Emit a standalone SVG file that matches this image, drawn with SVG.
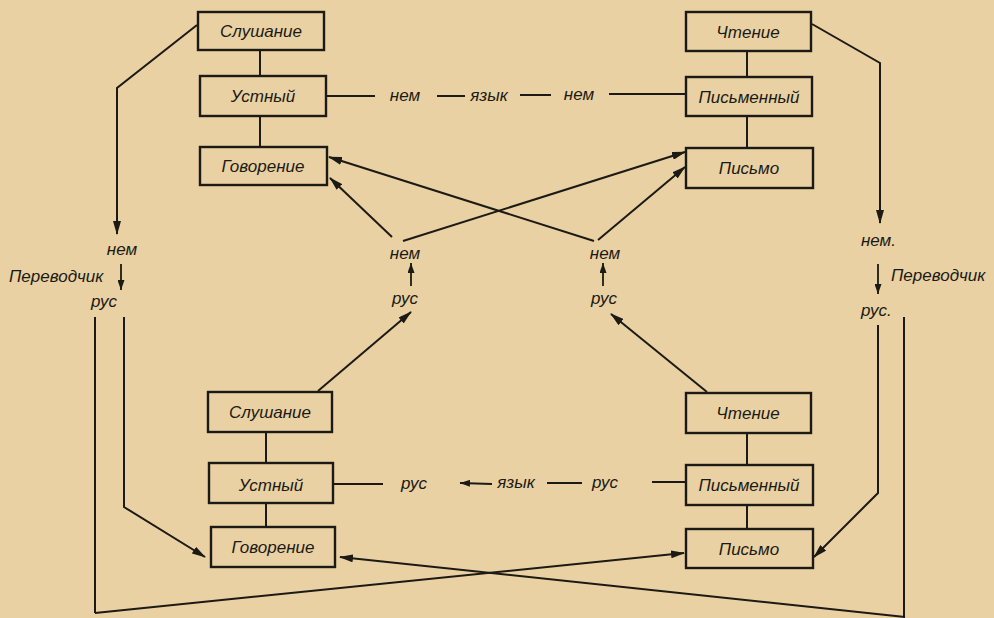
<svg xmlns="http://www.w3.org/2000/svg" width="994" height="618" viewBox="0 0 994 618">
<style>
.bg{fill:#E9D1A3}
.box{fill:none;stroke:#1c1a14;stroke-width:2.4}
.t{font-family:"Liberation Sans","DejaVu Sans",sans-serif;font-style:italic;font-size:17px;fill:#1c1a14;text-anchor:middle}
.lb{font-family:"Liberation Sans","DejaVu Sans",sans-serif;font-style:italic;font-size:17px;fill:#1c1a14}
.ln{fill:none;stroke:#1c1a14;stroke-width:2}
.ar{fill:none;stroke:#1c1a14;stroke-width:2;marker-end:url(#ah)}
.ars{fill:none;stroke:#1c1a14;stroke-width:1.8;marker-end:url(#ahs)}
</style>
<defs>
<marker id="ah" markerUnits="userSpaceOnUse" markerWidth="14" markerHeight="8" refX="13" refY="4" orient="auto"><path d="M0,0 L14,4 L0,8 z" fill="#1c1a14"/></marker>
<marker id="ahs" markerUnits="userSpaceOnUse" markerWidth="10" markerHeight="7" refX="10" refY="3.5" orient="auto"><path d="M0,0 L10,3.5 L0,7 z" fill="#1c1a14"/></marker>
</defs>
<rect class="bg" x="0" y="0" width="994" height="618"/>

<g id="connectors">
<line class="ln" x1="260" y1="50" x2="260" y2="76"/>
<line class="ln" x1="260" y1="116" x2="260" y2="147"/>
<line class="ln" x1="747" y1="51" x2="747" y2="77"/>
<line class="ln" x1="747" y1="116" x2="747" y2="148"/>
<line class="ln" x1="266" y1="432" x2="266" y2="463"/>
<line class="ln" x1="266" y1="503" x2="266" y2="527"/>
<line class="ln" x1="747" y1="433" x2="747" y2="465"/>
<line class="ln" x1="747" y1="505" x2="747" y2="529"/>
<line class="ln" x1="326" y1="96" x2="375" y2="96"/>
<line class="ln" x1="437" y1="96" x2="465" y2="96"/>
<line class="ln" x1="520" y1="95" x2="551" y2="95"/>
<line class="ln" x1="609" y1="94" x2="686" y2="94"/>
<line class="ln" x1="333" y1="484" x2="383" y2="484"/>
<line class="ars" x1="492" y1="484" x2="460" y2="483"/>
<line class="ln" x1="547" y1="483" x2="582" y2="483"/>
<line class="ln" x1="652" y1="482" x2="686" y2="482"/>
<polyline class="ar" points="197,25 117,88 117,234"/>
<line class="ars" x1="121" y1="264" x2="121" y2="290"/>
<polyline class="ln" points="95,317 95,613"/>
<polyline class="ar" points="95,613 684,553"/>
<polyline class="ar" points="124,317 124,507 205,557"/>
<polyline class="ar" points="812,24 880,63 880,223"/>
<line class="ars" x1="878" y1="264" x2="878" y2="294"/>
<line class="ln" x1="904" y1="317" x2="904" y2="618"/>
<polyline class="ar" points="905,617 340,557"/>
<polyline class="ar" points="878,325 878,493 814,557"/>
<line class="ar" x1="392" y1="237" x2="330" y2="178"/>
<line class="ar" x1="403" y1="241" x2="685" y2="152"/>
<line class="ar" x1="594" y1="241" x2="329" y2="157"/>
<line class="ar" x1="598" y1="240" x2="685" y2="167"/>
<line class="ars" x1="411" y1="286" x2="411" y2="263"/>
<line class="ars" x1="603" y1="286" x2="603" y2="263"/>
<line class="ar" x1="318" y1="391" x2="411" y2="312"/>
<line class="ar" x1="707" y1="392" x2="611" y2="314"/>
</g>

<g id="labels">
<text class="lb" x="405" y="101" text-anchor="middle">нем</text>
<text class="lb" x="489" y="101" text-anchor="middle">язык</text>
<text class="lb" x="579" y="100" text-anchor="middle">нем</text>
<text class="lb" x="414" y="489" text-anchor="middle">рус</text>
<text class="lb" x="516" y="488" text-anchor="middle">язык</text>
<text class="lb" x="605" y="488" text-anchor="middle">рус</text>
<text class="lb" x="405" y="259" text-anchor="middle">нем</text>
<text class="lb" x="405" y="304" text-anchor="middle">рус</text>
<text class="lb" x="605" y="259" text-anchor="middle">нем</text>
<text class="lb" x="604" y="304" text-anchor="middle">рус</text>
<text class="lb" x="122" y="255" text-anchor="middle">нем</text>
<text class="lb" x="9" y="282">Переводчик</text>
<text class="lb" x="104" y="307" text-anchor="middle">рус</text>
<text class="lb" x="861" y="246">нем.</text>
<text class="lb" x="891" y="281">Переводчик</text>
<text class="lb" x="861" y="316">рус.</text>
</g>

<g id="n-tl-listen"><rect class="box" x="198" y="12" width="126" height="38"/><text class="t" x="261" y="37">Слушание</text></g>
<g id="n-tl-oral"><rect class="box" x="200" y="76" width="126" height="40"/><text class="t" x="263" y="102">Устный</text></g>
<g id="n-tl-speak"><rect class="box" x="200" y="147" width="127" height="38"/><text class="t" x="263" y="172">Говорение</text></g>

<g id="n-tr-read"><rect class="box" x="686" y="12" width="125" height="39"/><text class="t" x="748" y="38">Чтение</text></g>
<g id="n-tr-written"><rect class="box" x="686" y="77" width="126" height="39"/><text class="t" x="749" y="103">Письменный</text></g>
<g id="n-tr-write"><rect class="box" x="686" y="148" width="127" height="40"/><text class="t" x="749" y="174">Письмо</text></g>

<g id="n-bl-listen"><rect class="box" x="208" y="392" width="124" height="40"/><text class="t" x="270" y="418">Слушание</text></g>
<g id="n-bl-oral"><rect class="box" x="209" y="463" width="124" height="40"/><text class="t" x="271" y="491">Устный</text></g>
<g id="n-bl-speak"><rect class="box" x="211" y="527" width="124" height="40"/><text class="t" x="273" y="553">Говорение</text></g>

<g id="n-br-read"><rect class="box" x="686" y="393" width="125" height="40"/><text class="t" x="748" y="419">Чтение</text></g>
<g id="n-br-written"><rect class="box" x="686" y="465" width="127" height="40"/><text class="t" x="749" y="491">Письменный</text></g>
<g id="n-br-write"><rect class="box" x="686" y="529" width="127" height="39"/><text class="t" x="749" y="555">Письмо</text></g>
</svg>
